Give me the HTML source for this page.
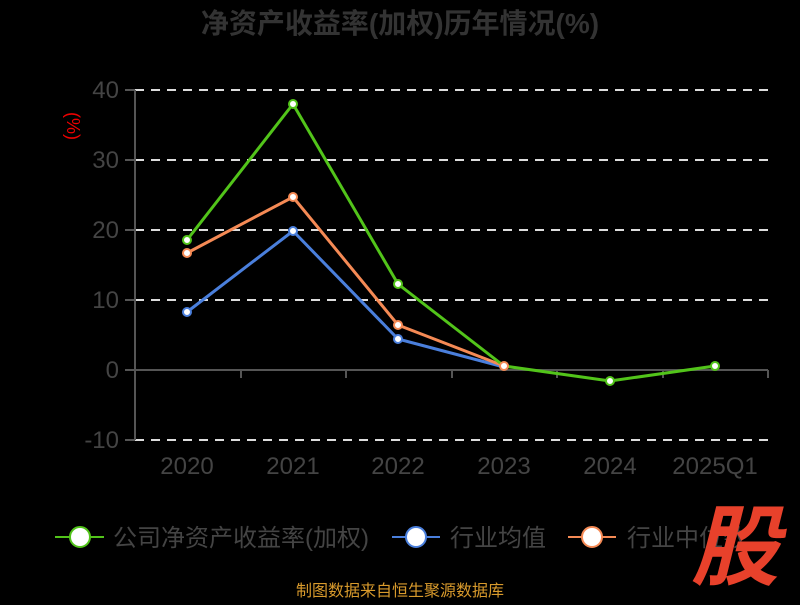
<!DOCTYPE html>
<html><head><meta charset="utf-8"><style>
body{margin:0;background:#000;width:800px;height:600px;overflow:hidden}
text{font-family:"Liberation Sans","Noto Sans CJK SC",sans-serif}
</style></head><body>
<svg width="800" height="600" xmlns="http://www.w3.org/2000/svg">
<rect width="800" height="600" fill="#000"/>
<text x="400" y="33" text-anchor="middle" font-size="28" font-weight="bold" fill="#333">净资产收益率(加权)历年情况(%)</text>
<g stroke="#ddd" stroke-width="2" stroke-dasharray="9,7">
<line x1="135" y1="90" x2="768" y2="90"/><line x1="135" y1="160" x2="768" y2="160"/>
<line x1="135" y1="230" x2="768" y2="230"/><line x1="135" y1="300" x2="768" y2="300"/>
<line x1="135" y1="440" x2="768" y2="440"/></g>
<g stroke="#555" stroke-width="2">
<line x1="135" y1="90" x2="135" y2="440"/><line x1="135" y1="370" x2="768" y2="370"/>
<line x1="125" y1="90" x2="135" y2="90"/><line x1="125" y1="160" x2="135" y2="160"/><line x1="125" y1="230" x2="135" y2="230"/><line x1="125" y1="300" x2="135" y2="300"/><line x1="125" y1="370" x2="135" y2="370"/><line x1="125" y1="440" x2="135" y2="440"/>
<line x1="241" y1="370" x2="241" y2="378"/><line x1="346" y1="370" x2="346" y2="378"/><line x1="452" y1="370" x2="452" y2="378"/><line x1="557" y1="370" x2="557" y2="378"/><line x1="663" y1="370" x2="663" y2="378"/><line x1="768" y1="370" x2="768" y2="378"/>
</g>
<g font-size="24" fill="#444" text-anchor="end">
<text x="119" y="98">40</text><text x="119" y="168">30</text><text x="119" y="238">20</text><text x="119" y="308">10</text><text x="119" y="378">0</text><text x="119" y="448">-10</text></g>
<text transform="translate(67,126) rotate(90)" font-size="18" fill="#e00" text-anchor="middle">(%)</text>
<g font-size="24" fill="#444" text-anchor="middle">
<text x="187" y="474">2020</text><text x="293" y="474">2021</text><text x="398" y="474">2022</text><text x="504" y="474">2023</text><text x="610" y="474">2024</text><text x="715" y="474">2025Q1</text></g>
<g fill="none" stroke-width="3">
<polyline stroke="#4a7fdc" points="187,312 293,231 398,339 504,367"/>
<polyline stroke="#f58a55" points="187,253 293,197 398,325 504,366"/>
<polyline stroke="#52c41a" points="187,240 293,104 398,284 504,366 610,381 715,366"/>
</g>
<g stroke-width="2" fill="#fff">
<circle cx="187" cy="312" r="4" stroke="#4a7fdc"/><circle cx="293" cy="231" r="4" stroke="#4a7fdc"/><circle cx="398" cy="339" r="4" stroke="#4a7fdc"/>
<circle cx="187" cy="253" r="4" stroke="#f58a55"/><circle cx="293" cy="197" r="4" stroke="#f58a55"/><circle cx="398" cy="325" r="4" stroke="#f58a55"/>
<circle cx="187" cy="240" r="4" stroke="#52c41a"/><circle cx="293" cy="104" r="4" stroke="#52c41a"/><circle cx="398" cy="284" r="4" stroke="#52c41a"/><circle cx="610" cy="381" r="4" stroke="#52c41a"/><circle cx="715" cy="366" r="4" stroke="#52c41a"/>
<circle cx="504" cy="366" r="4" stroke="#f58a55"/>
</g>
<g stroke-width="2">
<line x1="55" y1="537" x2="104" y2="537" stroke="#52c41a"/><circle cx="80" cy="537" r="10" fill="#fff" stroke="#52c41a"/>
<line x1="392" y1="537" x2="440" y2="537" stroke="#4a7fdc"/><circle cx="416" cy="537" r="10" fill="#fff" stroke="#4a7fdc"/>
<line x1="568" y1="537" x2="616" y2="537" stroke="#f58a55"/><circle cx="592" cy="537" r="10" fill="#fff" stroke="#f58a55"/>
</g>
<g font-size="24" fill="#444">
<text x="113" y="546">公司净资产收益率(加权)</text><text x="450" y="546">行业均值</text><text x="627" y="546">行业中位数</text></g>
<text x="735" y="578" font-size="88" font-weight="bold" font-style="italic" fill="#e8412b" text-anchor="middle">股</text>
<text x="400" y="596" font-size="16" fill="#d89a2c" text-anchor="middle">制图数据来自恒生聚源数据库</text>
</svg>
</body></html>
